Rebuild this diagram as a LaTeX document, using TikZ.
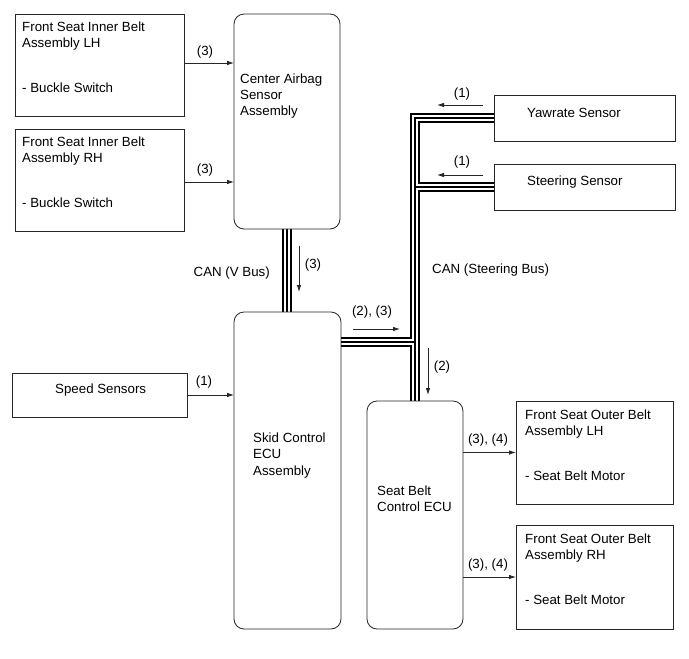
\documentclass[tikz,border=0pt]{standalone}
\usepackage{fontspec}
\setmainfont{Liberation Sans}
\usetikzlibrary{arrows.meta,calc,backgrounds}
\begin{document}
\begin{tikzpicture}[x=1pt,y=-1pt,
  font=\fontsize{13.3}{16}\selectfont,
  box/.style={draw=black!85, line width=0.8pt, anchor=north west, inner sep=0pt, outer sep=0pt},
  rbox/.style={box, rounded corners=10pt},
  txt/.style={anchor=base west, inner sep=0pt},
  lbl/.style={inner sep=0pt},
  arr/.style={draw=black!85, line width=0.8pt, -{Latex[length=7pt,width=4.5pt]}},
  busA/.style={line width=10pt, black},
  busB/.style={line width=6pt, white},
  busC/.style={line width=2pt, black}]
\useasboundingbox (0,0) rectangle (689,659);

% boxes
\node[box, minimum width=169, minimum height=102] (lhin) at (15,14) {};
\node[box, minimum width=169, minimum height=102] (rhin) at (15,129) {};
\node[rbox, minimum width=106, minimum height=215] (airbag) at (234,14) {};
\node[rbox, minimum width=107, minimum height=317] (skid) at (234,312) {};
\node[box, minimum width=175, minimum height=44] (speed) at (12,373) {};
\node[box, minimum width=181, minimum height=46] (yaw) at (494,95) {};
\node[box, minimum width=181, minimum height=46] (steer) at (494,164) {};
\node[rbox, minimum width=96, minimum height=228] (sbecu) at (367,401) {};
\node[box, minimum width=157, minimum height=103] (outl) at (516,401) {};
\node[box, minimum width=157, minimum height=104] (outr) at (516,525) {};

% box texts
\node[txt] (t1) at (22,31) {Front Seat Inner Belt};
\node[txt] (t2) at (22,47.5) {Assembly LH};
\node[txt] (t3) at (22,92) {- Buckle Switch};
\node[txt] (t4) at (22,146) {Front Seat Inner Belt};
\node[txt] (t5) at (22,162.5) {Assembly RH};
\node[txt] (t6) at (22,207) {- Buckle Switch};
\node[txt] (t7) at (240,83) {Center Airbag};
\node[txt] (t8) at (240,99) {Sensor};
\node[txt] (t9) at (240,115) {Assembly};
\node[txt] (t10) at (253,442) {Skid Control};
\node[txt] (t11) at (253,458) {ECU};
\node[txt] (t12) at (253,475) {Assembly};
\node[txt] (t13) at (55,393) {Speed Sensors};
\node[txt] (t14) at (527,117) {Yawrate Sensor};
\node[txt] (t15) at (527,185) {Steering Sensor};
\node[txt] (t16) at (377,495) {Seat Belt};
\node[txt] (t17) at (377,511) {Control ECU};
\node[txt] (t18) at (525,419) {Front Seat Outer Belt};
\node[txt] (t19) at (525,435.5) {Assembly LH};
\node[txt] (t20) at (525,480) {- Seat Belt Motor};
\node[txt] (t21) at (525,543) {Front Seat Outer Belt};
\node[txt] (t22) at (525,559.5) {Assembly RH};
\node[txt] (t23) at (525,604) {- Seat Belt Motor};

% CAN buses
\coordinate (skb) at ($(skid.north east)+(0,30)$);
\begin{pgfonlayer}{background}
\foreach \s in {busA,busB,busC}{
  \draw[\s] (airbag.south) -- (airbag.south |- skid.north);
  \draw[\s] (yaw.west) -| (sbecu.north);
  \draw[\s] (steer.west) -- (steer.west -| sbecu.north);
  \draw[\s] (skb) -- (skb -| sbecu.north);
}
\end{pgfonlayer}

% signal connectors
\draw[arr] ($(lhin.east)+(0,-2)$) -- ($(lhin.east -| airbag.west)+(0,-2)$);
\draw[arr] ($(rhin.east)+(0,2)$) -- ($(rhin.east -| airbag.west)+(0,2)$);
\draw[arr] (speed.east) -- (speed.east -| skid.west);
\draw[arr] (outl.west -| sbecu.east) -- (outl.west);
\draw[arr] (outr.west -| sbecu.east) -- (outr.west);

% direction arrows along buses
\coordinate (d1a) at (483,105); \coordinate (d1b) at (437,105);
\coordinate (d2a) at (483,175); \coordinate (d2b) at (437,175);
\coordinate (d3a) at (299,246); \coordinate (d3b) at (299,292);
\coordinate (d4a) at (353,329); \coordinate (d4b) at (400,329);
\coordinate (d5a) at (428,348); \coordinate (d5b) at (428,395);
\draw[arr] (d1a) -- (d1b);
\draw[arr] (d2a) -- (d2b);
\draw[arr] (d3a) -- (d3b);
\draw[arr] (d4a) -- (d4b);
\draw[arr] (d5a) -- (d5b);

% labels
\node[lbl] (l1) at (205,52) {(3)};
\node[lbl] (l2) at (205,170) {(3)};
\node[lbl] (l3) at (313,265) {(3)};
\node[lbl, anchor=east] (l4) at (270,273) {CAN (V Bus)};
\node[lbl] (l5) at (372,312) {(2), (3)};
\node[lbl] (l6) at (204,382) {(1)};
\node[lbl] (l7) at (462,94) {(1)};
\node[lbl] (l8) at (462,162) {(1)};
\node[lbl, anchor=west] (l9) at (432,270) {CAN (Steering Bus)};
\node[lbl] (l10) at (442,367) {(2)};
\node[lbl] (l11) at (488,440) {(3), (4)};
\node[lbl] (l12) at (488,565) {(3), (4)};
\end{tikzpicture}
\end{document}
